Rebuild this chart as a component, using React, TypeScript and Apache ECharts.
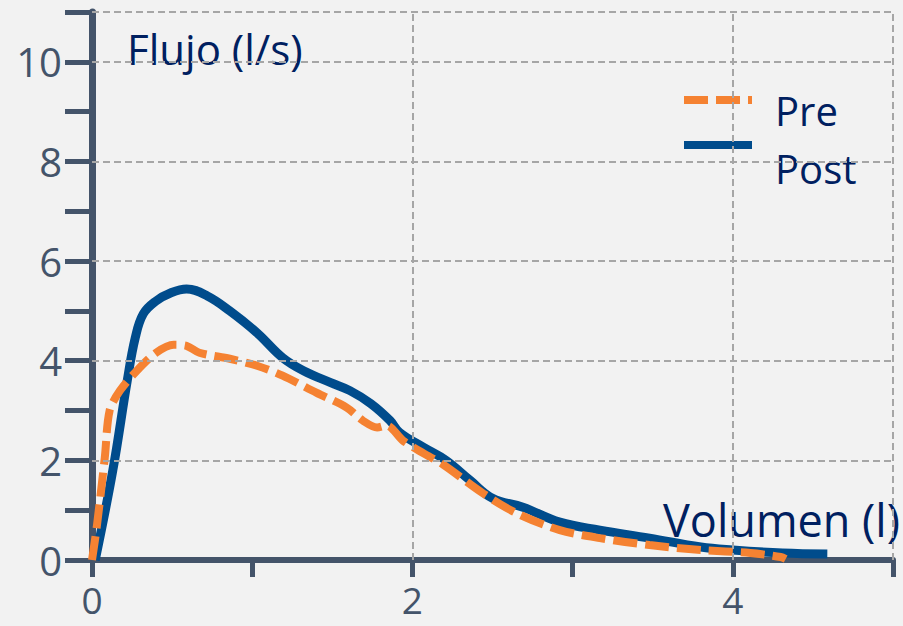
import React, { useEffect, useRef } from "react";
import * as echarts from "echarts";

const preVolume = [0, 0.03, 0.08, 0.11, 0.175, 0.28, 0.4, 0.51, 0.59, 0.67, 0.86, 1.03, 1.19, 1.4, 1.59, 1.69, 1.78, 1.84, 1.94, 2.07, 2.19, 2.44, 2.65, 2.92, 3.17, 3.48, 3.8, 4.11, 4.3, 4.33];
const preFlow = [0, 0.67, 2.06, 3.0, 3.4, 3.8, 4.16, 4.32, 4.3, 4.16, 4.04, 3.9, 3.7, 3.36, 3.06, 2.8, 2.66, 2.7, 2.4, 2.14, 1.92, 1.34, 0.94, 0.6, 0.44, 0.3, 0.2, 0.14, 0.06, 0.02];

const postVolume = [0.02, 0.13, 0.22, 0.27, 0.32, 0.4, 0.49, 0.59, 0.72, 0.86, 1.03, 1.19, 1.32, 1.49, 1.61, 1.74, 1.86, 1.92, 2.07, 2.21, 2.36, 2.5, 2.69, 2.92, 3.17, 3.48, 3.8, 4.0, 4.31, 4.59];
const postFlow = [0, 1.8, 3.6, 4.46, 4.94, 5.2, 5.36, 5.44, 5.3, 5.0, 4.56, 4.06, 3.8, 3.56, 3.4, 3.14, 2.8, 2.56, 2.26, 2.0, 1.6, 1.24, 1.06, 0.76, 0.6, 0.44, 0.26, 0.2, 0.14, 0.12];

const yGridValues = [2, 4, 6, 8, 10, 11];
const xGridValues = [2, 4, 5];
const xLabelValues = [0, 2, 4];
const yLabelValues = [0, 2, 4, 6, 8, 10];

const seriesNames = ["Pre", "Post"];
const yAxisTitle = "Flujo (l/s)";
const xAxisTitle = "Volumen (l)";

const FONT = "Open Sans";
const AXIS_COLOR = "#44546a";
const TITLE_COLOR = "#002060";
const PRE_COLOR = "#f58232";
const POST_COLOR = "#004c8c";
const GRID_COLOR = "#a6a6a6";
const PRE_DASH = [24, 8];

export default function App() {
  const ref = useRef<HTMLDivElement>(null);
  useEffect(() => {
    if (!ref.current) return;
    const chart = echarts.init(ref.current, null, { renderer: "svg" });
    const pre = preVolume.map((v, i) => [v, preFlow[i]]);
    const post = postVolume.map((v, i) => [v, postFlow[i]]);
    chart.setOption({
      animation: false,
      backgroundColor: "#f2f2f2",
      textStyle: { fontFamily: FONT },
      grid: { left: 92, right: 10, top: 12, bottom: 66, containLabel: false },
      xAxis: {
        type: "value",
        min: 0,
        max: 5,
        interval: 1,
        axisLine: { show: true, onZero: false, lineStyle: { color: AXIS_COLOR, width: 6 } },
        axisTick: { show: true, length: 17, lineStyle: { color: AXIS_COLOR, width: 5 } },
        axisLabel: {
          fontFamily: FONT,
          fontSize: 37,
          lineHeight: 30,
          color: AXIS_COLOR,
          margin: 24,
          showMinLabel: true,
          showMaxLabel: true,
          hideOverlap: false,
          formatter: (v: number) => (xLabelValues.includes(v) ? String(v) : ""),
        },
        splitLine: { show: false },
      },
      yAxis: {
        type: "value",
        min: 0,
        max: 11,
        interval: 1,
        axisLine: { show: true, lineStyle: { color: AXIS_COLOR, width: 7 } },
        axisTick: { show: true, length: 27, lineStyle: { color: AXIS_COLOR, width: 5 } },
        axisLabel: {
          fontFamily: FONT,
          fontSize: 40,
          color: AXIS_COLOR,
          margin: 30,
          padding: [22, 0, 0, 0],
          showMinLabel: true,
          hideOverlap: false,
          formatter: (v: number) => (yLabelValues.includes(v) ? String(v) : ""),
        },
        splitLine: { show: false },
      },
      series: [
        {
          name: "grid",
          type: "line",
          data: [],
          z: 1,
          silent: true,
          markLine: {
            silent: true,
            symbol: ["none", "none"],
            label: { show: false },
            lineStyle: { color: GRID_COLOR, type: [7, 4], width: 2 },
            emphasis: { disabled: true },
            data: [
              ...yGridValues.map((v) => ({ yAxis: v })),
              ...xGridValues.map((v) => ({ xAxis: v })),
            ],
          },
        },
        {
          name: seriesNames[1],
          type: "line",
          data: post,
          smooth: 0.4,
          symbol: "none",
          z: 3,
          lineStyle: { color: POST_COLOR, width: 9 },
          itemStyle: { color: POST_COLOR },
        },
        {
          name: seriesNames[0],
          type: "line",
          data: pre,
          smooth: 0.3,
          symbol: "none",
          z: 4,
          lineStyle: { color: PRE_COLOR, width: 8, type: PRE_DASH },
          itemStyle: { color: PRE_COLOR },
        },
      ],
      graphic: [
        {
          type: "text",
          left: 127,
          top: 27,
          style: { text: yAxisTitle, fontFamily: FONT, fontSize: 42, fill: TITLE_COLOR },
        },
        {
          type: "text",
          right: 3,
          top: 497,
          style: { text: xAxisTitle, fontFamily: FONT, fontSize: 45, fill: TITLE_COLOR },
        },
        {
          type: "line",
          shape: { x1: 684, y1: 100, x2: 752, y2: 100 },
          style: { stroke: PRE_COLOR, lineWidth: 8, lineDash: PRE_DASH },
        },
        {
          type: "text",
          x: 775,
          y: 110,
          style: {
            text: seriesNames[0],
            fontFamily: FONT,
            fontSize: 40,
            fill: TITLE_COLOR,
            verticalAlign: "middle",
          },
        },
        {
          type: "line",
          shape: { x1: 684, y1: 145, x2: 752, y2: 145 },
          style: { stroke: POST_COLOR, lineWidth: 8 },
        },
        {
          type: "text",
          x: 775,
          y: 168,
          style: {
            text: seriesNames[1],
            fontFamily: FONT,
            fontSize: 40,
            fill: TITLE_COLOR,
            verticalAlign: "middle",
          },
        },
      ],
    });
    return () => chart.dispose();
  }, []);
  return (
    <div
      ref={ref}
      style={{ position: "absolute", left: 0, top: 0, width: 903, height: 626 }}
    />
  );
}
